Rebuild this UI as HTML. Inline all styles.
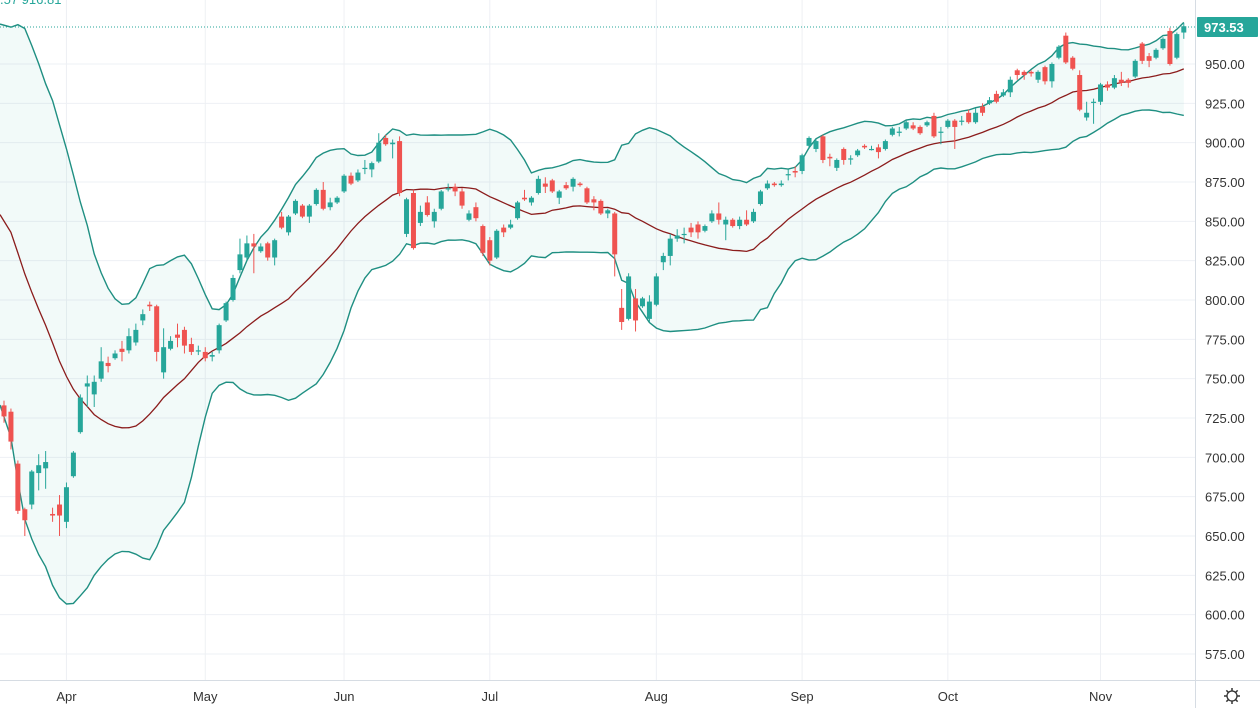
<!DOCTYPE html>
<html><head><meta charset="utf-8"><style>
html,body{margin:0;padding:0;background:#fff;}
svg{display:block;font-family:"Liberation Sans",sans-serif;}
</style></head><body>
<svg id="chart" width="1260" height="708" viewBox="0 0 1260 708" xmlns="http://www.w3.org/2000/svg">
<g id="grid"></g>
<g id="bands"></g>
<g id="candles"></g>
<g id="axes"></g>
<text x="0" y="4" font-size="13" fill="#26a69a">.57  916.81</text>
</svg>
<script>
const opens=[733,729,696,667,670,690,693,664,670,659,688,716,745,740,750,760,763,769,768,773,787,797,796,754,769,778,781,772,768,767,764,768,787,800,819,827,836,831,836,827,853,843,855,860,853,861,870,859,862,869,879,876,884,883,888,903,899,901,842,868,849,862,850,858,871,872,869,851,859,847,838,827,846,846,852,865,862,868,874,876,865,873,872,874,871,864,863,855,855,795,788,801,796,788,797,824,828,839,842,846,848,844,850,855,848,851,847,851,850,861,871,874,873,880,882,882,898,896,904,891,884,896,890,892,898,896,897,896,905,907,909,911,910,911,917,907,910,914,914,919,913,923,925,931,930,932,946,945,945,940,948,939,954,968,954,943,916,926,926,937,935,940,940,942,963,955,954,960,971,954,970];
const closes=[726,710,666,660,691,695,697,663,663,681,703,738,747,748,761,758,766,767,777,781,791,796,767,770,774,776,771,767,768,763,765,784,798,814,829,836,834,834,827,838,846,853,863,853,860,870,858,862,865,879,874,881,884,887,900,899,900,868,864,833,856,854,856,869,871,869,860,855,852,830,825,844,843,848,862,864,865,877,872,869,869,871,877,873,862,862,855,857,829,786,815,787,801,799,815,828,839,841,842,843,843,847,855,851,851,847,851,848,856,869,874,873,874,880,881,892,903,901,889,890,889,889,890,895,897,896,894,901,909,907,913,909,906,913,904,907,914,910,914,913,919,919,927,926,932,940,943,943,944,945,939,950,961,951,947,921,919,926,937,935,941,938,938,952,952,952,959,966,950,969,974];
const highs=[736,731,698,668,692,702,704,668,676,684,704,740,752,752,770,764,768,774,782,785,794,799,797,782,777,785,783,776,771,770,767,785,799,816,839,841,842,836,837,839,856,854,864,861,861,871,875,865,866,880,881,883,889,888,906,905,902,904,865,870,860,866,858,870,874,874,871,857,862,848,840,845,848,851,863,870,866,879,878,877,870,875,878,875,872,866,864,858,856,807,817,807,802,803,817,830,842,845,846,849,850,848,857,862,853,852,853,857,858,870,876,875,876,883,885,893,904,902,905,893,890,897,892,896,899,898,899,902,910,910,914,913,911,914,919,910,915,915,917,921,922,925,929,933,934,942,947,946,946,946,949,951,962,970,955,946,926,928,938,939,943,945,941,953,964,957,960,967,973,970,976];
const lows=[722,705,664,650,667,679,680,659,650,655,687,715,732,732,748,754,762,761,766,771,784,793,761,750,768,770,766,765,765,761,761,766,786,799,817,825,817,830,825,822,845,841,854,852,849,860,857,857,861,868,873,875,880,878,887,898,890,866,840,832,847,853,846,857,869,866,858,850,850,828,822,826,840,845,851,863,860,867,868,868,861,870,869,872,861,857,854,852,815,781,787,780,795,786,796,819,822,837,836,840,839,843,849,848,838,846,845,847,849,860,870,872,872,876,878,880,896,894,887,885,882,886,886,891,896,895,890,895,904,904,908,908,905,910,903,899,909,896,911,912,912,917,924,925,929,929,940,940,942,938,937,935,953,950,946,920,914,912,924,933,934,936,935,941,950,948,953,959,949,953,966];
const history=[935,930,925,925,910,900,890,895,875,865,860,845,850,825,810,800,785,775,760];
const priceTicks=[575,600,625,650,675,700,725,750,775,800,825,850,875,900,925,950];
const monthLabels=["Apr","May","Jun","Jul","Aug","Sep","Oct","Nov"];
const monthStartIndex=[9,29,49,70,94,115,136,158];
const lastPrice=973.53;

const NS="http://www.w3.org/2000/svg";
const PLOT_W=1195, PLOT_H=680;
function yS(p){return 64+(950-p)*1.5733;}
function xS(i){return 4+i*6.94;}
function mk(tag,attrs,parent){const e=document.createElementNS(NS,tag);for(const k in attrs)e.setAttribute(k,attrs[k]);parent.appendChild(e);return e;}
const grid=document.getElementById('grid'),bands=document.getElementById('bands'),cg=document.getElementById('candles'),axes=document.getElementById('axes');

priceTicks.forEach(p=>{const l=mk('line',{x1:0,x2:PLOT_W,y1:yS(p),y2:yS(p),stroke:'#eef0f4','stroke-width':1},grid);

});
monthStartIndex.forEach(i=>{const l=mk('line',{x1:xS(i),x2:xS(i),y1:0,y2:PLOT_H,stroke:'#eef0f4','stroke-width':1},grid);

});

const all=history.concat(closes);
const up=[],mid=[],lo=[];
for(let i=0;i<closes.length;i++){const w=all.slice(i,i+20);const m=w.reduce((a,b)=>a+b,0)/20;const sd=Math.sqrt(w.reduce((a,b)=>a+(b-m)*(b-m),0)/20);mid.push(m);up.push(m+2*sd);lo.push(m-2*sd);}
function pts(arr){return arr.map((v,i)=>(i===0?0:xS(i)).toFixed(1)+','+yS(v).toFixed(1));}
const fill=mk('polygon',{points:pts(up).concat(pts(lo).reverse()).join(' '),fill:'rgba(38,166,154,0.06)'},bands);


const ul=mk('polyline',{points:pts(up).join(' '),fill:'none',stroke:'#1f8f82','stroke-width':1.4},bands);


const ll=mk('polyline',{points:pts(lo).join(' '),fill:'none',stroke:'#1f8f82','stroke-width':1.4},bands);


const ml=mk('polyline',{points:pts(mid).join(' '),fill:'none',stroke:'#8b1c1c','stroke-width':1.3},bands);



for(let i=0;i<closes.length;i++){
 const o=opens[i],c=closes[i],col=c>=o?'#26a69a':'#ef5350',x=xS(i);
 const g=mk('g',{},cg);
 
 
 mk('line',{x1:x,x2:x,y1:yS(highs[i]),y2:yS(lows[i]),stroke:col,'stroke-width':1},g);
 const top=yS(Math.max(o,c)),h=Math.max(1.2,Math.abs(yS(o)-yS(c)));
 mk('rect',{x:x-2.5,y:top,width:5,height:h,fill:col},g);
}

const ly=yS(lastPrice);
const dl=mk('line',{x1:0,x2:PLOT_W,y1:ly,y2:ly,stroke:'#26a69a','stroke-width':1,'stroke-dasharray':'1,2'},axes);


mk('line',{x1:PLOT_W+0.5,x2:PLOT_W+0.5,y1:0,y2:708,stroke:'#d6dce3'},axes);
mk('line',{x1:0,x2:1260,y1:PLOT_H+0.5,y2:PLOT_H+0.5,stroke:'#d6dce3'},axes);
priceTicks.forEach(p=>{const t=mk('text',{x:1205,y:yS(p)+5,'font-size':13,fill:'#333'},axes);t.textContent=p.toFixed(2);

});
const lb=mk('rect',{x:1197,y:ly-10,width:61,height:20,fill:'#26a69a',rx:1},axes);


const lt=mk('text',{x:1204,y:ly+5,'font-size':13,fill:'#fff','font-weight':'bold'},axes);lt.textContent=lastPrice.toFixed(2);


monthLabels.forEach((m,k)=>{const t=mk('text',{x:xS(monthStartIndex[k]),y:701,'font-size':13,fill:'#333','text-anchor':'middle'},axes);t.textContent=m;

});
const gear=mk('g',{transform:'translate(1232,696)'},axes);


mk('circle',{r:5,fill:'none',stroke:'#333','stroke-width':1.3},gear);
for(let a=0;a<8;a++){const r=a*Math.PI/4;mk('line',{x1:5*Math.cos(r),y1:5*Math.sin(r),x2:8*Math.cos(r),y2:8*Math.sin(r),stroke:'#333','stroke-width':1.5},gear);}
</script>
</body></html>
